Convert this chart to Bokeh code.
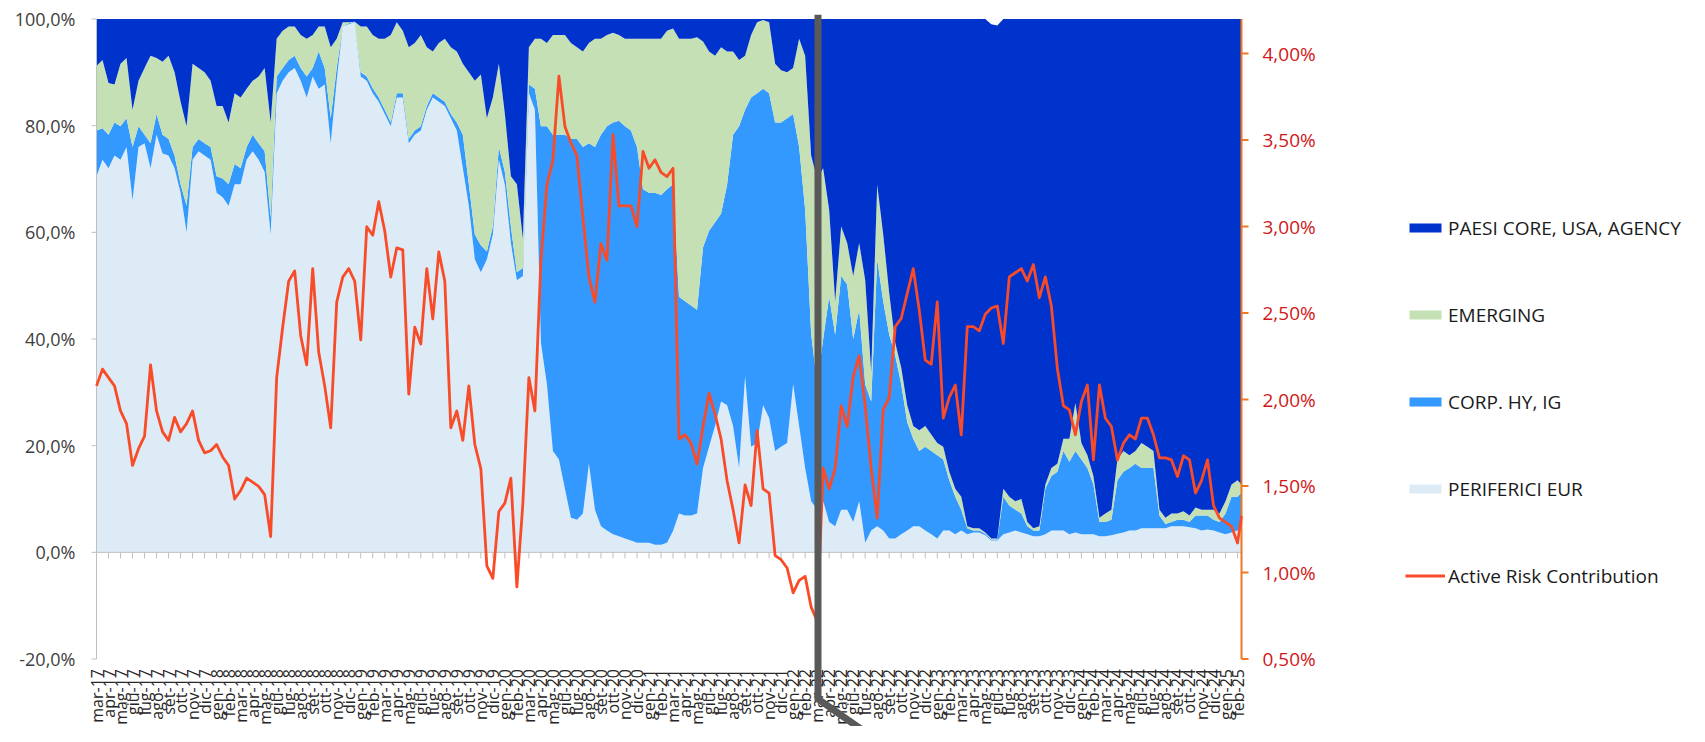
import math
from bokeh.plotting import figure
from bokeh.layouts import row
from bokeh.models import (ColumnDataSource, Range1d, LinearAxis, FixedTicker,
                          Legend, LegendItem)
from bokeh.core.properties import value
from bokeh.embed import file_html
from bokeh.resources import INLINE

# ---------------- data ----------------
month_abbr = ["gen", "feb", "mar", "apr", "mag", "giu", "lug", "ago", "set", "ott", "nov", "dic"]
# monthly tick labels from mar-17 to feb-25
x_tick_labels = [f"{month_abbr[(2 + i) % 12]}-{17 + (2 + i) // 12:02d}" for i in range(96)]
x_tick_positions = list(range(96))

# sample positions in months since 1 Mar 2017 (half-month steps)
month_offset = [i * 0.5 for i in range(191)] + [95.33]

periferici_eur = [
    70.5, 73.6, 72.0, 74.4, 73.6, 76.0, 66.0, 76.0, 76.7, 72.0,
    78.3, 74.8, 74.4, 72.0, 67.4, 60.0, 73.6, 75.2, 74.4, 73.6,
    67.4, 66.6, 65.0, 69.0, 69.0, 73.6, 75.2, 73.6, 71.3, 59.6,
    86.1, 88.4, 90.0, 90.8, 88.4, 85.3, 89.2, 86.9, 87.7, 76.7,
    88.4, 98.6, 99.0, 99.4, 89.2, 88.4, 86.1, 84.5, 82.2, 79.9,
    85.3, 85.3, 76.7, 78.3, 79.1, 83.0, 85.3, 84.5, 83.7, 81.4,
    79.1, 72.0, 65.0, 54.9, 52.5, 54.9, 59.6, 73.6, 68.9, 58.0,
    51.0, 51.8, 86.1, 83.0, 39.3, 31.5, 19.0, 17.4, 11.9, 6.5,
    6.1, 7.3, 16.6, 8.0, 4.9, 4.1, 3.4, 3.0, 2.6, 2.2,
    1.8, 1.8, 1.8, 1.4, 1.4, 1.8, 4.0, 7.3, 6.9, 6.9,
    7.3, 15.8, 19.8, 23.7, 28.3, 27.6, 23.7, 15.8, 33.0, 19.8,
    20.5, 27.6, 25.2, 19.0, 19.8, 20.5, 31.5, 23.7, 15.8, 9.6,
    8.0, 9.6, 5.7, 4.9, 8.0, 8.0, 5.7, 9.6, 1.8, 4.1,
    4.9, 4.1, 2.6, 2.6, 3.4, 4.1, 4.9, 4.9, 4.1, 3.4,
    2.6, 4.1, 4.1, 3.4, 4.1, 3.4, 3.7, 3.7, 3.2, 2.2,
    2.2, 3.4, 3.7, 4.1, 3.7, 3.4, 3.0, 3.0, 3.4, 4.1,
    4.1, 4.1, 3.4, 3.7, 3.4, 3.4, 3.4, 3.0, 3.0, 3.2,
    3.5, 3.7, 4.1, 4.1, 4.5, 4.5, 4.5, 4.5, 4.5, 4.9,
    4.9, 4.9, 4.7, 4.5, 4.1, 4.3, 4.1, 3.7, 3.4, 3.7,
    4.1, 4.9,
]

corp_hy_ig = [
    8.6, 5.9, 6.3, 6.2, 6.3, 5.4, 10.0, 3.9, 1.6, 4.7,
    3.9, 3.5, 3.1, 2.4, 1.6, 5.0, 2.4, 2.3, 2.3, 2.4,
    3.1, 3.5, 4.0, 3.8, 3.0, 2.4, 3.1, 3.1, 3.9, 3.1,
    3.1, 2.4, 2.3, 2.3, 2.4, 3.9, 1.6, 7.0, 3.1, 4.7,
    2.4, 0.0, 0.2, 0.1, 0.8, 0.8, 0.9, 0.8, 0.8, 0.7,
    0.8, 0.8, 0.8, 0.8, 0.8, 0.7, 0.8, 0.8, 0.8, 0.8,
    1.5, 6.3, 4.0, 4.7, 5.1, 1.5, 1.5, 2.4, 2.4, 3.1,
    1.5, 1.5, 1.6, 3.9, 40.6, 48.4, 59.3, 60.9, 66.4, 71.0,
    71.4, 68.7, 60.1, 68.0, 73.4, 75.8, 77.2, 77.9, 77.3, 76.9,
    74.2, 66.3, 65.6, 66.0, 65.6, 66.3, 65.0, 40.6, 40.2, 39.4,
    38.2, 41.4, 40.5, 38.2, 35.2, 41.3, 54.6, 64.1, 50.0, 65.5,
    65.6, 59.3, 60.9, 61.6, 60.8, 60.9, 50.7, 52.3, 48.5, 31.4,
    23.5, 30.4, 42.2, 35.9, 43.8, 42.2, 34.3, 35.9, 29.7, 24.2,
    50.0, 43.0, 38.2, 34.3, 28.1, 20.3, 16.4, 14.1, 15.7, 15.6,
    15.6, 13.3, 9.4, 7.0, 3.9, 1.1, 0.4, 0.4, 0.3, 0.2,
    0.2, 7.0, 5.1, 3.9, 3.6, 1.5, 1.1, 1.1, 8.5, 10.2,
    11.0, 14.9, 13.6, 15.3, 14.0, 12.4, 9.3, 2.7, 2.7, 2.9,
    10.0, 11.4, 11.7, 12.5, 11.3, 11.3, 11.3, 2.4, 0.8, 0.8,
    1.2, 1.2, 1.0, 2.4, 2.8, 2.6, 2.0, 2.0, 3.9, 6.7,
    6.3, 6.3,
]

emerging = [
    12.1, 12.8, 9.7, 7.1, 11.7, 11.3, 7.0, 8.5, 12.5, 16.4,
    10.5, 13.7, 15.6, 15.6, 15.5, 14.9, 15.6, 13.3, 13.3, 12.4,
    13.2, 13.6, 11.6, 13.3, 13.3, 10.9, 10.1, 12.5, 15.6, 17.9,
    7.1, 7.0, 6.3, 5.5, 6.2, 7.1, 6.2, 4.7, 7.8, 13.3,
    5.5, 0.8, 0.2, 0.0, 8.6, 9.4, 10.0, 11.0, 13.3, 16.4,
    13.3, 11.7, 17.2, 16.4, 17.1, 11.0, 7.8, 10.2, 11.8, 12.5,
    13.3, 13.3, 21.0, 28.8, 32.0, 25.0, 24.2, 15.6, 10.9, 9.4,
    16.5, 5.5, 7.0, 9.4, 16.4, 15.6, 18.7, 18.7, 18.7, 18.0,
    17.2, 17.9, 18.8, 20.3, 18.0, 17.1, 16.8, 16.1, 16.4, 17.2,
    20.3, 28.2, 28.9, 28.9, 29.3, 29.7, 29.2, 48.4, 49.2, 50.0,
    51.1, 38.6, 33.6, 31.2, 31.2, 25.0, 15.6, 12.4, 10.1, 11.7,
    13.3, 12.9, 13.3, 11.0, 9.8, 8.6, 8.6, 20.3, 28.8, 33.4,
    38.5, 32.0, 16.3, 6.3, 9.3, 7.8, 11.8, 12.5, 19.5, 5.5,
    14.0, 12.5, 7.8, 2.4, 3.1, 3.2, 2.4, 3.9, 3.9, 3.1,
    2.3, 2.4, 1.6, 1.5, 2.4, 0.4, 0.4, 0.4, 0.2, 0.2,
    0.2, 1.5, 1.6, 1.6, 2.7, 0.8, 0.4, 0.8, 0.8, 1.5,
    1.5, 2.3, 4.3, 9.0, 3.1, 2.4, 1.6, 0.8, 1.6, 1.9,
    3.9, 3.9, 2.4, 2.4, 4.7, 4.0, 3.2, 1.1, 1.2, 1.6,
    1.2, 1.6, 1.2, 1.5, 1.1, 1.1, 1.9, 1.6, 2.3, 2.3,
    3.1, 1.5,
]

paesi_core = [
    8.8, 7.7, 12.0, 12.3, 8.4, 7.3, 17.0, 11.6, 9.2, 6.9,
    7.3, 8.0, 6.9, 10.0, 15.5, 20.1, 8.4, 9.2, 10.0, 11.6,
    16.3, 16.3, 19.4, 13.9, 14.7, 13.1, 11.6, 10.8, 9.2, 19.4,
    3.7, 2.2, 1.4, 1.4, 3.0, 3.7, 3.0, 1.4, 1.4, 5.3,
    3.7, 0.6, 0.6, 0.5, 1.4, 1.4, 3.0, 3.7, 3.7, 3.0,
    0.6, 2.2, 5.3, 4.5, 3.0, 5.3, 6.1, 4.5, 3.7, 5.3,
    6.1, 8.4, 10.0, 11.6, 10.4, 18.6, 14.7, 8.4, 17.8, 29.5,
    31.0, 41.2, 5.3, 3.7, 3.7, 4.5, 3.0, 3.0, 3.0, 4.5,
    5.3, 6.1, 4.5, 3.7, 3.7, 3.0, 2.6, 3.0, 3.7, 3.7,
    3.7, 3.7, 3.7, 3.7, 3.7, 2.2, 1.8, 3.7, 3.7, 3.7,
    3.4, 4.2, 6.1, 6.9, 5.3, 6.1, 6.1, 7.7, 6.9, 3.0,
    0.6, 0.2, 0.6, 8.4, 9.6, 10.0, 9.2, 3.7, 6.9, 25.6,
    30.0, 28.0, 35.8, 52.9, 38.9, 42.0, 48.2, 42.0, 49.0, 66.2,
    31.1, 40.4, 51.4, 60.7, 65.4, 72.4, 76.3, 77.1, 76.3, 77.9,
    79.5, 80.2, 84.9, 88.1, 89.6, 95.1, 95.5, 95.5, 96.3, 96.4,
    96.2, 88.1, 89.6, 90.4, 90.0, 94.3, 95.5, 95.1, 87.3, 84.2,
    83.4, 78.7, 78.7, 72.0, 79.5, 81.8, 85.7, 93.5, 92.7, 92.0,
    82.6, 81.0, 81.8, 81.0, 79.5, 80.2, 81.0, 92.0, 93.5, 92.7,
    92.7, 92.3, 93.1, 91.6, 92.0, 92.0, 92.0, 92.7, 90.4, 87.3,
    86.5, 87.3,
]

active_risk = [
    2.079, 2.176, 2.127, 2.079, 1.934, 1.861, 1.619, 1.716, 1.788, 2.200,
    1.934, 1.813, 1.764, 1.897, 1.813, 1.861, 1.934, 1.764, 1.692, 1.704,
    1.740, 1.668, 1.619, 1.425, 1.474, 1.546, 1.522, 1.498, 1.450, 1.208,
    2.127, 2.418, 2.684, 2.744, 2.369, 2.200, 2.757, 2.273, 2.079, 1.837,
    2.563, 2.708, 2.757, 2.684, 2.345, 2.999, 2.950, 3.144, 2.974, 2.708,
    2.877, 2.865, 2.031, 2.418, 2.321, 2.757, 2.466, 2.853, 2.684, 1.837,
    1.934, 1.764, 2.079, 1.740, 1.600, 1.038, 0.966, 1.353, 1.401, 1.546,
    0.917, 1.401, 2.127, 1.934, 2.805, 3.241, 3.386, 3.870, 3.579, 3.483,
    3.410, 3.047, 2.708, 2.563, 2.902, 2.805, 3.531, 3.120, 3.120, 3.120,
    2.999, 3.434, 3.337, 3.386, 3.313, 3.289, 3.337, 1.772, 1.796, 1.748,
    1.627, 1.844, 2.036, 1.916, 1.772, 1.531, 1.363, 1.171, 1.507, 1.387,
    1.820, 1.483, 1.459, 1.098, 1.074, 1.026, 0.882, 0.954, 0.978, 0.800,
    0.720, 1.603, 1.483, 1.603, 1.964, 1.844, 2.132, 2.252, 1.964, 1.600,
    1.315, 1.940, 2.012, 2.421, 2.469, 2.613, 2.757, 2.517, 2.228, 2.204,
    2.565, 1.892, 2.012, 2.084, 1.796, 2.421, 2.421, 2.397, 2.493, 2.529,
    2.541, 2.324, 2.709, 2.733, 2.757, 2.685, 2.781, 2.589, 2.709, 2.541,
    2.180, 1.964, 1.940, 1.796, 1.988, 2.084, 1.651, 2.084, 1.892, 1.844,
    1.651, 1.748, 1.796, 1.772, 1.892, 1.892, 1.796, 1.663, 1.663, 1.651,
    1.555, 1.675, 1.651, 1.459, 1.531, 1.651, 1.387, 1.315, 1.291, 1.267,
    1.171, 1.327,
]

left_tick_values = [-20, 0, 20, 40, 60, 80, 100]
left_tick_labels = ["-20,0%", "0,0%", "20,0%", "40,0%", "60,0%", "80,0%", "100,0%"]
right_tick_values = [0.5, 1.0, 1.5, 2.0, 2.5, 3.0, 3.5, 4.0]
right_tick_labels = ["0,50%", "1,00%", "1,50%", "2,00%", "2,50%", "3,00%", "3,50%", "4,00%"]

# annotation: thick grey marker line (month position, % level on left axis)
marker_months = [60.07, 60.07, 68.0]
marker_levels = [100.8, -27.5, -40.0]

series_names = ["PAESI CORE, USA, AGENCY", "EMERGING", "CORP. HY, IG", "PERIFERICI EUR"]
line_name = "Active Risk Contribution"

# ---------------- styles / layout constants ----------------
C_CORE = "#0033CC"
C_EMERG = "#C5E0B4"
C_CORP = "#3399FF"
C_PERIF = "#DDEBF7"
C_RISK = "#FA4B28"
C_GRID = "#BFBFBF"
C_RAXIS = "#F07822"
FONT = "Open Sans"

X_END = month_offset[-1]
LEFT_MIN, LEFT_MAX = -20, 100
RIGHT_MIN, RIGHT_MAX = 0.5, 4.2
FIG_W, FIG_H = 1330, 726
PLOT_L, PLOT_R = 96, 1241      # pixel extent of the axes box
PLOT_T, PLOT_B = 18.5, 658.5
FRAME_L, FRAME_R, FRAME_T = 86, 1253, 10   # drawing frame is a bit larger than the axes box
px_x = (PLOT_R - PLOT_L) / X_END
px_l = (PLOT_B - PLOT_T) / (LEFT_MAX - LEFT_MIN)
px_r = (PLOT_B - PLOT_T) / (RIGHT_MAX - RIGHT_MIN)
x_lo = -(PLOT_L - FRAME_L) / px_x
x_hi = X_END + (FRAME_R - PLOT_R) / px_x
yl_hi = LEFT_MAX + (PLOT_T - FRAME_T) / px_l
yl_lo = LEFT_MIN - (FIG_H - PLOT_B) / px_l
yr_hi = RIGHT_MAX + (PLOT_T - FRAME_T) / px_r
yr_lo = RIGHT_MIN - (FIG_H - PLOT_B) / px_r

source = ColumnDataSource(dict(x=month_offset, perif=periferici_eur, corp=corp_hy_ig,
                               emerg=emerging, core=paesi_core, risk=active_risk))

p = figure(width=FIG_W, height=FIG_H, output_backend="svg", toolbar_location=None,
           x_range=Range1d(x_lo, x_hi), y_range=Range1d(yl_lo, yl_hi),
           x_axis_location=None,
           min_border_left=FRAME_L, min_border_right=FIG_W - FRAME_R,
           min_border_top=FRAME_T, min_border_bottom=0)
p.background_fill_color = "white"
p.border_fill_color = "white"
p.outline_line_color = None
p.grid.visible = False
p.extra_y_ranges = {"risk": Range1d(yr_lo, yr_hi)}

areas = p.varea_stack(["perif", "corp", "emerg", "core"], x="x", source=source,
                      color=[C_PERIF, C_CORP, C_EMERG, C_CORE])

# left axis line, ticks; zero line with monthly ticks
p.segment(x0=[0], y0=[LEFT_MIN], x1=[0], y1=[LEFT_MAX], line_color=C_GRID, line_width=1)
p.segment(x0=[-5 / px_x] * len(left_tick_values), y0=left_tick_values,
          x1=[0] * len(left_tick_values), y1=left_tick_values, line_color=C_GRID, line_width=1)
p.segment(x0=[0], y0=[0], x1=[X_END], y1=[0], line_color=C_GRID, line_width=1)
p.segment(x0=x_tick_positions, y0=[0] * 96, x1=x_tick_positions, y1=[-6 / px_l] * 96,
          line_color=C_GRID, line_width=1)

# right axis line and ticks
p.segment(x0=[X_END], y0=[RIGHT_MIN], x1=[X_END], y1=[RIGHT_MAX], y_range_name="risk",
          line_color=C_RAXIS, line_width=2)
p.segment(x0=[X_END] * len(right_tick_values), y0=right_tick_values,
          x1=[X_END + 7 / px_x] * len(right_tick_values), y1=right_tick_values,
          y_range_name="risk", line_color=C_RAXIS, line_width=2)

risk_line = p.line("x", "risk", source=source, y_range_name="risk",
                   line_color=C_RISK, line_width=2.8, line_join="round")

# month labels under the axes box (vertical, reading upwards)
p.text(x=x_tick_positions, y=[LEFT_MIN - 10 / px_l] * 96, text=x_tick_labels,
       angle=math.pi / 2, text_align="right", text_baseline="middle",
       text_font=value(FONT), text_font_size="16px", text_color="#262626")

# grey marker line
p.line(marker_months, marker_levels, line_color="#595959", line_width=7, line_join="miter")

# left axis labels
ya = p.yaxis[0]
ya.ticker = FixedTicker(ticks=left_tick_values)
ya.major_label_overrides = dict(zip(left_tick_values, left_tick_labels))
ya.axis_line_color = None
ya.major_tick_line_color = None
ya.minor_tick_line_color = None
ya.major_tick_out = 0
ya.major_tick_in = 0
ya.major_label_standoff = 11
ya.major_label_text_font = FONT
ya.major_label_text_font_size = "18px"
ya.major_label_text_color = "#404040"

# right axis labels
ra = LinearAxis(y_range_name="risk", ticker=FixedTicker(ticks=right_tick_values),
                major_label_overrides=dict(zip(right_tick_values, right_tick_labels)))
ra.axis_line_color = None
ra.major_tick_line_color = None
ra.minor_tick_line_color = None
ra.major_tick_out = 0
ra.major_tick_in = 0
ra.major_label_standoff = 9
ra.major_label_text_font = FONT
ra.major_label_text_font_size = "19px"
ra.major_label_text_color = "#D01818"
p.add_layout(ra, "right")

# ---------------- legend (own panel to the right, same vertical borders) ----------------
lg = figure(width=1689 - FIG_W, height=FIG_H, output_backend="svg", toolbar_location=None,
            x_range=Range1d(0, 1), y_range=Range1d(0, 1),
            x_axis_location=None, y_axis_location=None,
            min_border_left=0, min_border_right=0, min_border_top=FRAME_T, min_border_bottom=0)
lg.outline_line_color = None
lg.grid.visible = False
lg.background_fill_color = "white"
lg.border_fill_color = "white"
hidden = ColumnDataSource(dict(x=[-3, -2], y1=[-3, -3], y2=[-2, -2]))
lg_core = lg.varea(x="x", y1="y1", y2="y2", source=hidden, fill_color=C_CORE)
lg_emerg = lg.varea(x="x", y1="y1", y2="y2", source=hidden, fill_color=C_EMERG)
lg_corp = lg.varea(x="x", y1="y1", y2="y2", source=hidden, fill_color=C_CORP)
lg_perif = lg.varea(x="x", y1="y1", y2="y2", source=hidden, fill_color=C_PERIF)
lg_risk = lg.line(x="x", y="y1", source=hidden, line_color=C_RISK, line_width=2.8)

ITEM_H, PITCH, FIRST_CENTER = 26, 87, 227.5
legend_height = 5 * ITEM_H + 4 * (PITCH - ITEM_H)
legend = Legend(items=[
    LegendItem(label=series_names[0], renderers=[lg_core]),
    LegendItem(label=series_names[1], renderers=[lg_emerg]),
    LegendItem(label=series_names[2], renderers=[lg_corp]),
    LegendItem(label=series_names[3], renderers=[lg_perif]),
    LegendItem(label=line_name, renderers=[lg_risk]),
], location=(75, FIG_H - (FIRST_CENTER - ITEM_H / 2) - legend_height))
legend.padding = 0
legend.margin = 0
legend.spacing = PITCH - ITEM_H
legend.label_height = ITEM_H
legend.glyph_height = 11
legend.glyph_width = 40
legend.label_standoff = 3
legend.border_line_color = None
legend.background_fill_alpha = 0
legend.label_text_font = FONT
legend.label_text_font_size = "19px"
legend.label_text_color = "#1A1A1A"
lg.add_layout(legend, "center")

layout = row(p, lg)
open("out.html", "w").write(file_html(layout, INLINE))
